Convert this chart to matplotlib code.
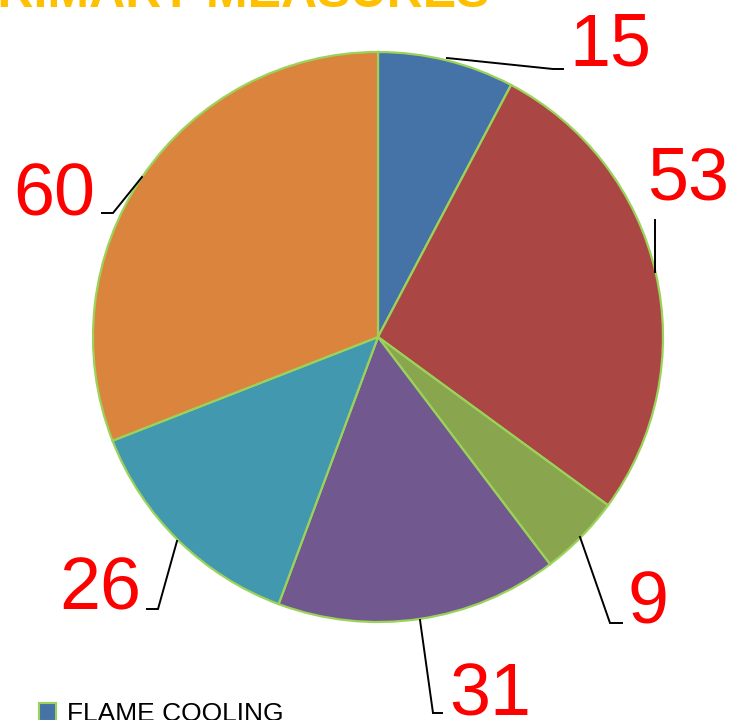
import matplotlib.pyplot as plt
from matplotlib.patches import Rectangle

# --- data ---
values = [15, 53, 9, 31, 26, 60]
labels = ["FLAME COOLING", "B", "C", "D", "E", "F"]
colors = ["#4572A7", "#AA4643", "#89A54E", "#71588F", "#4198AF", "#DB843D"]
title = "PRIMARY MEASURES"

W, H = 731, 720
def Y(y):
    return H - y

# label text positions (x centre, baseline) and leader line points, in pixels from top-left
label_pos = [(610, 65), (688, 200), (648, 624), (490, 715), (100, 609), (54, 215)]
leaders = [
    [(447, 58), (553, 69), (563, 69)],
    [(655, 272), (655, 220)],
    [(580, 537), (610, 623), (622, 623)],
    [(420, 620), (433, 713), (442, 713)],
    [(177, 541), (158, 609), (147, 609)],
    [(142, 177), (113, 213), (102, 213)],
]

fig = plt.figure(figsize=(W / 100, H / 100), dpi=100)
ax = fig.add_axes([0, 0, 1, 1])

wedges, _ = ax.pie(values, colors=colors, startangle=90, counterclock=False,
                   center=(378, Y(337)), radius=285,
                   wedgeprops=dict(edgecolor="#9BD35A", linewidth=1.6))

ax.set_xlim(0, W)
ax.set_ylim(0, H)
ax.set_aspect("equal", adjustable="box")
ax.axis("off")

for v, (x, y), pts in zip(values, label_pos, leaders):
    ax.text(x, Y(y), str(v), color="#FF0000", fontsize=53, family="Liberation Sans",
            ha="center", va="baseline")
    ax.plot([p[0] for p in pts], [Y(p[1]) for p in pts], color="black", lw=1.4,
            solid_joinstyle="miter")

# title, mostly cut off at the top
ax.text(490, Y(7), title, color="#FFC000", fontsize=36, fontweight="bold",
        family="Liberation Sans", ha="right", va="baseline")

# legend (only first entry visible)
ax.add_patch(Rectangle((39, Y(721)), 17, 18, facecolor=colors[0],
                       edgecolor="#9BD35A", lw=1.5))
ax.text(67, Y(721), labels[0], color="black", fontsize=19, family="Liberation Sans",
        ha="left", va="baseline")

fig.savefig("out.png", dpi=100)
